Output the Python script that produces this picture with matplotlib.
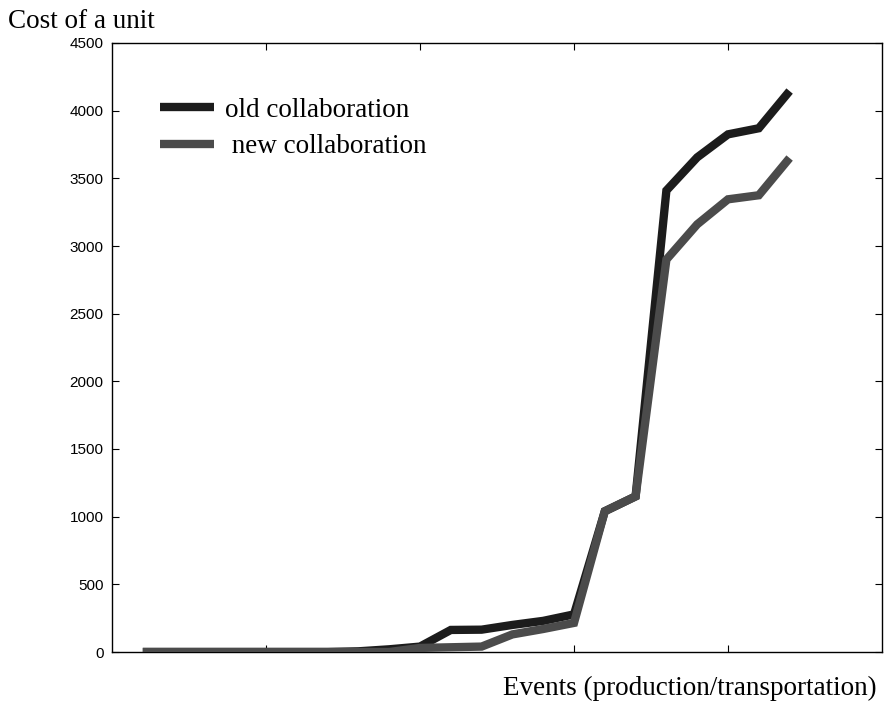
import matplotlib
matplotlib.use("Agg")
import matplotlib.pyplot as plt

# Events along the horizontal axis and cost per unit for both schemes
events = list(range(1, 23))
old_collab = [0, 0, 0, 0, 0, 0, 0, 5, 20, 40, 163, 165, 200, 230, 278,
              1040, 1150, 3410, 3655, 3825, 3870, 4145]
new_collab = [0, 0, 0, 0, 0, 0, 0, 0, 0, 30, 35, 40, 130, 170, 215,
              1040, 1150, 2900, 3160, 3345, 3375, 3650]
y_ticks = [0, 500, 1000, 1500, 2000, 2500, 3000, 3500, 4000, 4500]
x_ticks = [5, 10, 15, 20]

fig = plt.figure(figsize=(8.84, 7.04), dpi=100)
ax = fig.add_axes([112 / 884, 52 / 704, 770 / 884, 609 / 704])

ax.plot(events, old_collab, color="#1c1c1c", lw=6.0, zorder=2,
        solid_joinstyle="miter", solid_capstyle="butt",
        label="old collaboration")
ax.plot(events, new_collab, color="#4b4b4b", lw=6.0, zorder=3,
        solid_joinstyle="miter", solid_capstyle="butt",
        label=" new collaboration")

ax.set_xlim(0, 25)
ax.set_ylim(0, 4500)
ax.set_xticks(x_ticks)
ax.set_xticklabels([])
ax.set_yticks(y_ticks)
ax.set_yticklabels([str(v) for v in y_ticks], family="Liberation Sans",
                   fontsize=11)
ax.tick_params(direction="in", length=5, width=0.8, top=True, right=True,
               pad=6)
for sp in ax.spines.values():
    sp.set_linewidth(1.0)

leg = ax.legend(loc="upper left", bbox_to_anchor=(0.062, 0.91),
                frameon=False, borderpad=0, borderaxespad=0,
                handlelength=2.0, handletextpad=0.42, labelspacing=0.42,
                prop={"family": "Liberation Serif", "size": 19.5})

fig.text(8 / 884, 1 - 22 / 704, "Cost of a unit", family="Liberation Serif",
         fontsize=19.5, va="center", ha="left")
fig.text(877 / 884, 1 - 688 / 704, "Events (production/transportation)",
         family="Liberation Serif", fontsize=19.5, va="center", ha="right")

fig.savefig("out.png", dpi=100)
